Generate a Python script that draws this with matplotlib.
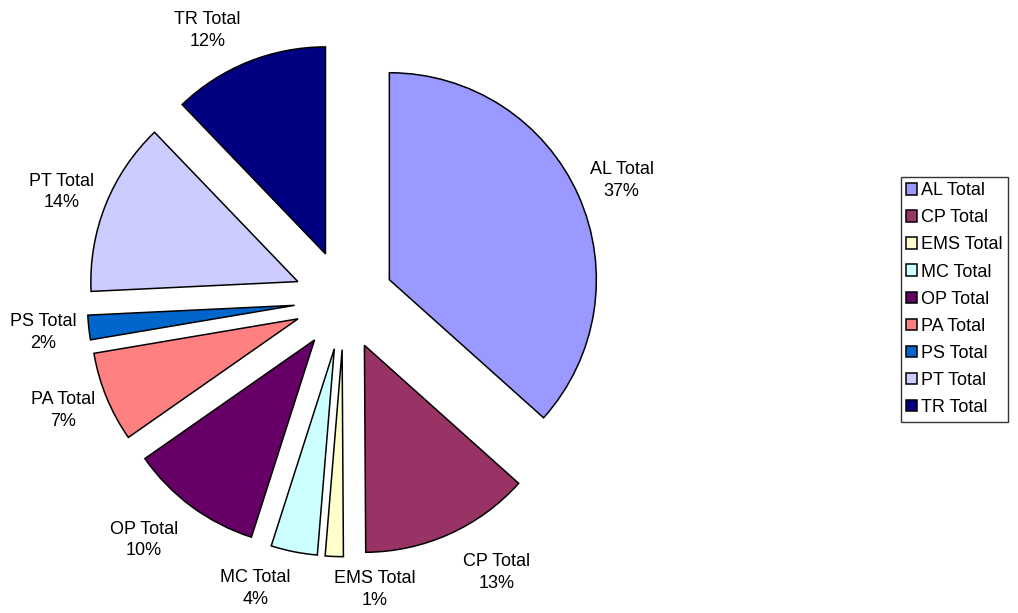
import numpy as np
import matplotlib.pyplot as plt

plt.rcParams['font.family'] = ['Liberation Sans', 'DejaVu Sans']

names = ["AL Total", "CP Total", "EMS Total", "MC Total", "OP Total",
         "PA Total", "PS Total", "PT Total", "TR Total"]
values = [36.4, 13.2, 1.4, 3.6, 10.3, 7.0, 1.9, 13.5, 12.1]
pct_labels = ["37%", "13%", "1%", "4%", "10%", "7%", "2%", "14%", "12%"]
colors = ["#9999FF", "#993366", "#FFFFCC", "#CCFFFF", "#660066",
          "#FF8080", "#0066CC", "#CCCCFF", "#000080"]

# label angle nudges (deg) and distances so the small slices don't collide
nudge = [1, -6, -10, 7, 4, 1, 0, -1, -6]
dist = [1.22, 1.27, 1.17, 1.22, 1.27, 1.22, 1.22, 1.22, 1.22]

W, H = 1018, 613
cx, cy, R = 344, 300, 207   # pie centre / radius in pixels

fig = plt.figure(figsize=(W / 100, H / 100), dpi=100)
ax = fig.add_axes([0, 0, 1, 1])

wedges, _ = ax.pie(values, colors=colors, startangle=90, counterclock=False,
                   explode=[0.24] * len(values),
                   wedgeprops=dict(edgecolor="black", linewidth=1.1))

ax.set_xlim(-cx / R, (W - cx) / R)
ax.set_ylim(-(H - cy) / R, cy / R)
ax.set_aspect("equal")
ax.axis("off")

for w, n, p, d, r in zip(wedges, names, pct_labels, nudge, dist):
    mid = np.deg2rad(0.5 * (w.theta1 + w.theta2) - d)
    x0, y0 = w.center
    x = x0 + r * np.cos(mid)
    y = y0 + r * np.sin(mid)
    ax.text(x, y, f"{n}\n{p}", ha="center", va="center", fontsize=13,
            linespacing=1.35)

leg = fig.legend(wedges, names, loc="center left",
                 bbox_to_anchor=(0.885, 0.512), fontsize=13,
                 frameon=True, fancybox=False, edgecolor="black",
                 handlelength=0.6, handleheight=0.6, handletextpad=0.2,
                 labelspacing=0.56, borderpad=0.3, borderaxespad=0)
leg.get_frame().set_linewidth(1.0)

fig.savefig("out.png", dpi=100)
